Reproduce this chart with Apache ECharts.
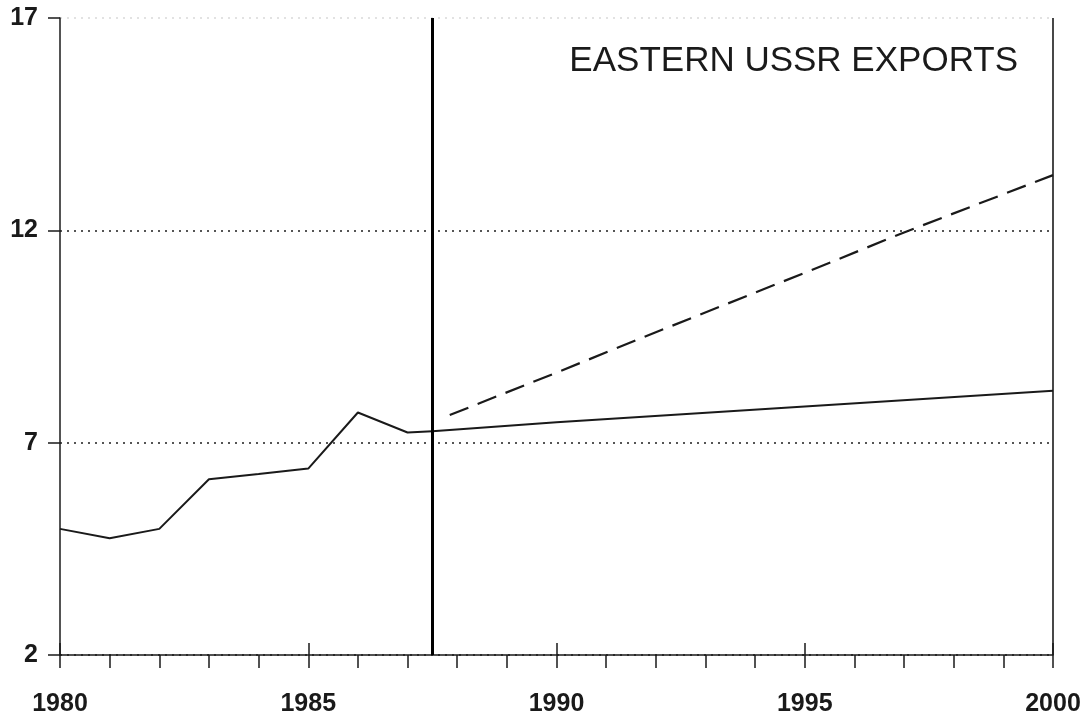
<!DOCTYPE html>
<html>
<head>
    <meta charset="utf-8">
    <title>Eastern USSR Exports</title>
    <script src="https://cdn.jsdelivr.net/npm/echarts@6/dist/echarts.min.js"></script>
    <style>
        html, body { margin: 0; padding: 0; background: #fff; }
        #chart { width: 1092px; height: 722px; }
    </style>
</head>
<body>
    <div id="chart"></div>

    <script type="text/javascript">
       // historical exports
       var histYears = [1980, 1981, 1982, 1983, 1984, 1985, 1986, 1987, 1987.5];
       var histValues = [4.97, 4.75, 4.97, 6.14, 6.26, 6.39, 7.71, 7.24, 7.27];

       // low projection (solid)
       var lowYears = [1987.5, 1990, 1995, 2000];
       var lowValues = [7.27, 7.48, 7.85, 8.22];

       // high projection (dashed)
       var highYears = [1987.85, 1990, 1992, 1995, 1997, 2000];
       var highValues = [7.65, 8.65, 9.6, 11.0, 11.95, 13.3];

       var yTicks = [2, 7, 12, 17];
       var xLabelYears = [1980, 1985, 1990, 1995, 2000];
       var splitYear = 1987.5;
       var titleText = 'EASTERN USSR EXPORTS';

       function pairs(xs, ys) {
           var out = [];
           for (var i = 0; i < xs.length; i++) out.push([xs[i], ys[i]]);
           return out;
       }

       var ink = '#1a1a1a';
       var font = 'Liberation Sans, Arial, sans-serif';

       var myChart = echarts.init(document.getElementById('chart'), null, {renderer: 'canvas'});

       myChart.setOption({
           animation: false,
           backgroundColor: '#fff',
           title: {
               text: titleText,
               right: 69,
               top: 39,
               textStyle: {fontFamily: font, fontSize: 35, fontWeight: 'normal', color: ink}
           },
           grid: {left: 60, right: 39, top: 18, bottom: 67},
           xAxis: [{
               type: 'value',
               min: 1980,
               max: 2000,
               interval: 1,
               position: 'bottom',
               axisLine: {lineStyle: {color: ink, width: 1.5}},
               axisTick: {inside: false, length: 13, lineStyle: {color: ink, width: 1.5}},
               axisLabel: {
                   margin: 37,
                   fontFamily: font,
                   fontSize: 25,
                   fontWeight: 'bold',
                   color: ink,
                   formatter: function (v) {
                       return xLabelYears.indexOf(v) >= 0 ? String(v) : '';
                   }
               },
               splitLine: {show: false}
           }, {
               type: 'value',
               min: 1980,
               max: 2000,
               interval: 5,
               position: 'bottom',
               axisLine: {show: false},
               axisTick: {inside: true, length: 12, lineStyle: {color: ink, width: 1.5}},
               axisLabel: {show: false},
               splitLine: {show: false}
           }],
           yAxis: {
               type: 'value',
               min: yTicks[0],
               max: yTicks[yTicks.length - 1],
               interval: 5,
               axisLine: {show: true, lineStyle: {color: ink, width: 1.5}},
               axisTick: {show: true, length: 12, lineStyle: {color: ink, width: 1.5}},
               axisLabel: {
                   margin: 22,
                   fontFamily: font,
                   fontSize: 25,
                   fontWeight: 'bold',
                   color: ink
               },
               splitLine: {
                   show: true,
                   lineStyle: {type: [2, 5], width: 2, color: ['#555', '#555', '#555', '#e2e2e2']}
               }
           },
           series: [{
               type: 'line',
               data: pairs(histYears, histValues),
               symbol: 'none',
               lineStyle: {color: ink, width: 2},
               markLine: {
                   silent: true,
                   symbol: 'none',
                   label: {show: false},
                   lineStyle: {color: '#000', width: 3, type: 'solid'},
                   data: [{xAxis: splitYear}, {xAxis: 2000, lineStyle: {width: 1.6, color: ink}}]
               }
           }, {
               type: 'line',
               data: pairs(lowYears, lowValues),
               symbol: 'none',
               lineStyle: {color: ink, width: 2}
           }, {
               type: 'line',
               data: pairs(highYears, highValues),
               symbol: 'none',
               lineStyle: {color: ink, width: 2.2, type: [20, 10]}
           }]
       });
    </script>
</body>
</html>
